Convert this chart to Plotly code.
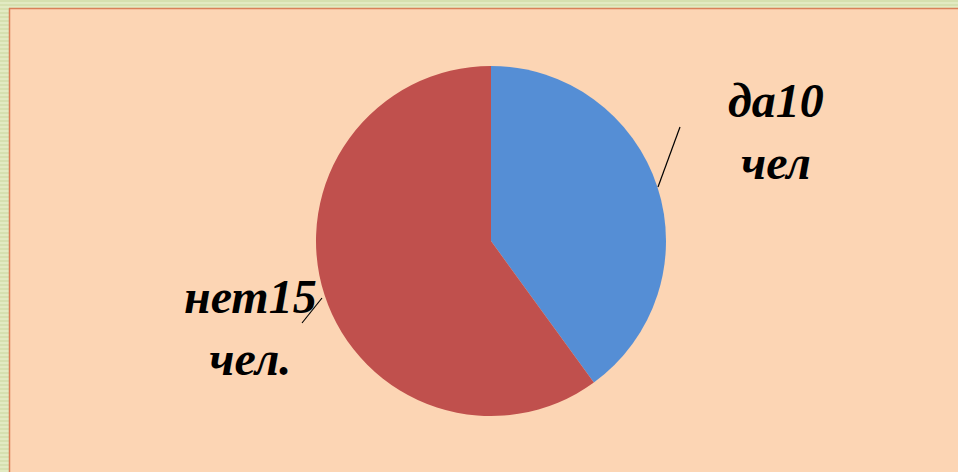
import plotly.graph_objects as go

labels = ["да", "нет"]
values = [10, 15]
units = ["чел", "чел."]
colors = ["#558ed5", "#c0504d"]

W, H = 958, 472
cx, cy, r = 491, 241, 175

fig = go.Figure(go.Pie(
    labels=labels, values=values, sort=False, direction="clockwise", rotation=0,
    marker=dict(colors=colors, line=dict(width=0)),
    textinfo="none", hoverinfo="label+value", showlegend=False,
    domain=dict(x=[(cx - r) / W, (cx + r) / W], y=[(H - cy - r) / H, (H - cy + r) / H]),
))

font = dict(family="Liberation Serif", size=48, color="black", weight="bold", style="italic")
label_pos = [(776, 132), (250, 327)]
for (lx, ly), lab, v, u in zip(label_pos, labels, values, units):
    fig.add_annotation(x=lx / W, y=1 - ly / H, xref="paper", yref="paper",
                       text=f"{lab}{v}<br>{u}", showarrow=False, font=font,
                       xanchor="center", yanchor="middle", align="center")

shapes = [
    dict(type="rect", xref="paper", yref="paper", x0=0, x1=1, y0=0, y1=1,
         fillcolor="#e2eac2", line=dict(width=0), layer="below"),
]
for i in range(0, H, 4):
    shapes.append(dict(type="rect", xref="paper", yref="paper", x0=0, x1=9 / W,
                       y0=1 - (i + 2) / H, y1=1 - i / H, fillcolor="#d6e0b0",
                       line=dict(width=0), layer="below"))
for i in range(0, 9, 4):
    shapes.append(dict(type="rect", xref="paper", yref="paper", x0=0, x1=1,
                       y0=1 - (i + 2) / H, y1=1 - i / H, fillcolor="#d6e0b0",
                       line=dict(width=0), layer="below"))
shapes += [
    dict(type="rect", xref="paper", yref="paper", x0=9 / W, x1=1, y0=0, y1=1 - 8 / H,
         fillcolor="#fcd5b4", line=dict(width=0), layer="below"),
    dict(type="line", xref="paper", yref="paper", x0=9 / W, x1=1, y0=1 - 8.5 / H, y1=1 - 8.5 / H,
         line=dict(color="#d9805a", width=1.5), layer="below"),
    dict(type="line", xref="paper", yref="paper", x0=9.5 / W, x1=9.5 / W, y0=0, y1=1 - 8 / H,
         line=dict(color="#d9805a", width=1.5), layer="below"),
    dict(type="line", xref="paper", yref="paper", x0=658 / W, y0=1 - 187 / H, x1=680 / W, y1=1 - 127 / H,
         line=dict(color="black", width=1.2)),
    dict(type="line", xref="paper", yref="paper", x0=302 / W, y0=1 - 323 / H, x1=322 / W, y1=1 - 298 / H,
         line=dict(color="black", width=1.2)),
]

fig.update_layout(width=W, height=H, margin=dict(l=0, r=0, t=0, b=0),
                  paper_bgcolor="#fcd5b4", plot_bgcolor="#fcd5b4", shapes=shapes)
fig.write_html("out.html", config={"displayModeBar": False},
               post_script="document.body.style.margin='0';document.body.style.overflow='hidden';")
